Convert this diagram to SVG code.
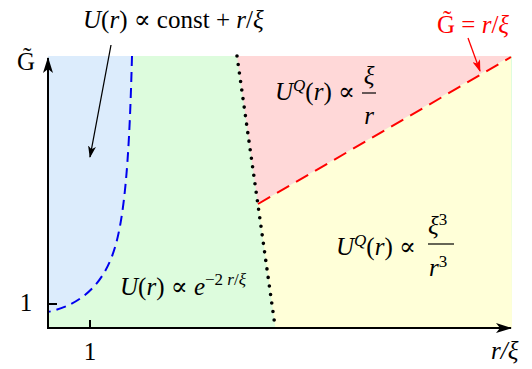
<svg xmlns="http://www.w3.org/2000/svg" width="532" height="369" viewBox="0 0 532 369" font-family="'Liberation Serif', 'Times New Roman', 'DejaVu Serif', serif">
<style>
text{font-family:'Liberation Serif','Times New Roman','DejaVu Serif',serif;font-size:25px;fill:#000}
.i{font-style:italic}
.red{fill:#ff0000}
.sup{font-size:17px}
.ax{stroke:#000;stroke-width:2;fill:none}
</style>
<defs>
<marker id="ah" viewBox="0 0 16 10" refX="15" refY="5" markerWidth="16" markerHeight="10" markerUnits="userSpaceOnUse" orient="auto">
<path d="M0,0 L16,5 L0,10 L4,5 Z" fill="#000"/>
</marker>
<marker id="sa" viewBox="0 0 12 8" refX="11" refY="4" markerWidth="12" markerHeight="8" markerUnits="userSpaceOnUse" orient="auto">
<path d="M0,0 L12,4 L0,8 L3,4 Z" fill="#000"/>
</marker>
<marker id="sr" viewBox="0 0 12 8" refX="11" refY="4" markerWidth="12" markerHeight="8" markerUnits="userSpaceOnUse" orient="auto">
<path d="M0,0 L12,4 L0,8 L3,4 Z" fill="#ff0000"/>
</marker>
</defs>
<g id="regions">
<rect x="48" y="56" width="464" height="272" fill="#ddfcdd"/>
<path id="region-blue" d="M48,56 L132,56 C130,130 127,200 117,240 C106,285 80,305 48,312 Z" fill="#dcecfc"/>
<path id="region-pink" d="M237,56 L511,56 L258,204 Z" fill="#ffd8d8"/>
<path id="region-yellow" d="M258,204 L511,56 L512,328 L275.5,328 Z" fill="#ffffd8"/>
</g>
<g id="connectors">
<path d="M132,56 C130,130 127,200 117,240 C106,285 80,305 48,312" fill="none" stroke="#0000ee" stroke-width="2" stroke-dasharray="10,6"/>
<path d="M237,56 L275,326" fill="none" stroke="#000" stroke-width="3.6" stroke-linecap="round" stroke-dasharray="0,8.6"/>
<path d="M258,204 L511,57" fill="none" stroke="#ff0000" stroke-width="2" stroke-dasharray="14,8"/>
<path d="M111,45 L90,157" fill="none" stroke="#000" stroke-width="1.3" marker-end="url(#sa)"/>
<path d="M468,38 L480,71" fill="none" stroke="#ff0000" stroke-width="1.3" marker-end="url(#sr)"/>
</g>
<g id="axes">
<path class="ax" d="M48,329 L48,58" marker-end="url(#ah)"/>
<path class="ax" d="M47,328 L511,328" marker-end="url(#ah)"/>
<path class="ax" d="M48,304 L57,304"/>
<path class="ax" d="M90,328 L90,320"/>
<text x="26" y="311" text-anchor="middle">1</text>
<text x="90" y="360" text-anchor="middle">1</text>
<text x="17" y="70">G&#771;</text>
<text x="491" y="359" class="i">r/ξ</text>
</g>
<g id="label-const">
<text x="83" y="28"><tspan class="i">U</tspan>(<tspan class="i">r</tspan>) ∝ const + <tspan class="i">r</tspan>/<tspan class="i">ξ</tspan></text>
</g>
<g id="label-exp">
<text x="120" y="295"><tspan class="i">U</tspan>(<tspan class="i">r</tspan>) ∝ <tspan class="i">e</tspan><tspan class="sup" dy="-10">−2 </tspan><tspan class="sup i">r</tspan><tspan class="sup">/</tspan><tspan class="sup i">ξ</tspan></text>
</g>
<g id="label-xi-r">
<text x="275" y="100"><tspan class="i">U</tspan><tspan class="sup i" dy="-9">Q</tspan><tspan dy="9">(</tspan><tspan class="i">r</tspan>) ∝</text>
<text x="369" y="84" text-anchor="middle" class="i">ξ</text>
<line x1="362" y1="93" x2="376" y2="93" stroke="#000" stroke-width="1.2"/>
<text x="369" y="124" text-anchor="middle" class="i">r</text>
</g>
<g id="label-xi3-r3">
<text x="336" y="255"><tspan class="i">U</tspan><tspan class="sup i" dy="-9">Q</tspan><tspan dy="9">(</tspan><tspan class="i">r</tspan>) ∝</text>
<text x="428" y="234"><tspan class="i">ξ</tspan><tspan class="sup" dy="-9">3</tspan></text>
<line x1="428" y1="244" x2="454" y2="244" stroke="#000" stroke-width="1.2"/>
<text x="429" y="276"><tspan class="i">r</tspan><tspan class="sup" dy="-9">3</tspan></text>
</g>
<g id="label-line">
<text x="437" y="33" class="red">G&#771; = <tspan class="i">r</tspan>/<tspan class="i">ξ</tspan></text>
</g>
</svg>
